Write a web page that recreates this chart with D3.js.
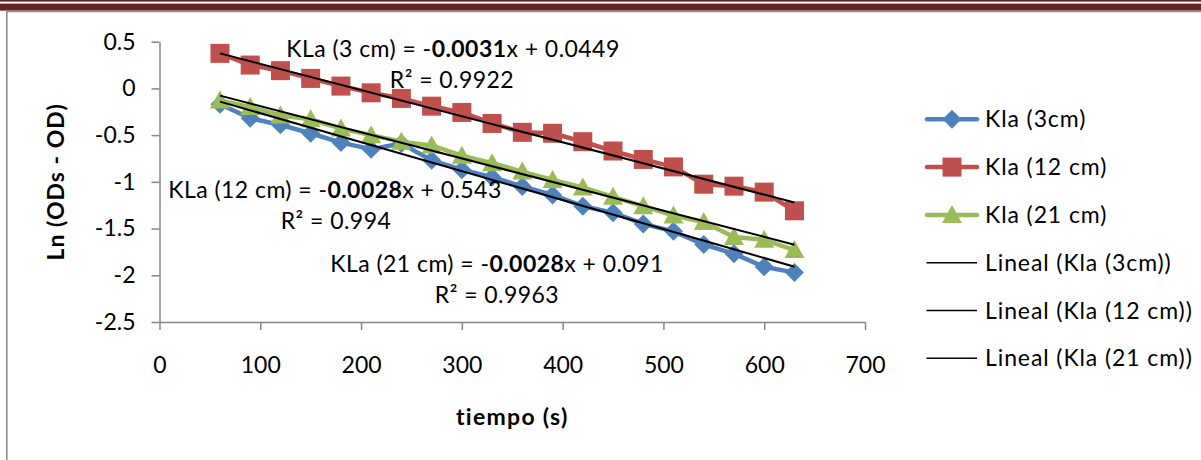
<!DOCTYPE html>
<html><head><meta charset="utf-8">
<script src="https://cdn.jsdelivr.net/npm/d3@7"></script>
<style>
body{margin:0;background:#fff}
svg{display:block}
text{font-family:Lato,'Liberation Sans',sans-serif;font-variant-ligatures:none;font-feature-settings:"liga" 0}
</style>
</head><body>
<svg id="c" width="1201" height="460"></svg>
<script>
// ---- data ----
const times = [60, 90, 120, 150, 180, 210, 240, 270, 300, 330, 360, 390, 420, 450, 480, 510, 540, 570, 600, 630];
const kla3  = [-0.17, -0.32, -0.39, -0.48, -0.58, -0.65, -0.59, -0.77, -0.87, -0.95, -1.05, -1.14, -1.26, -1.33, -1.45, -1.53, -1.67, -1.77, -1.91, -1.97];
const kla12 = [0.375, 0.25, 0.19, 0.107, 0.025, -0.047, -0.107, -0.19, -0.257, -0.375, -0.47, -0.48, -0.57, -0.67, -0.76, -0.84, -1.025, -1.046, -1.11, -1.31];
const kla21 = [-0.13, -0.20, -0.29, -0.33, -0.43, -0.50, -0.57, -0.61, -0.72, -0.80, -0.89, -0.98, -1.06, -1.16, -1.26, -1.36, -1.43, -1.59, -1.62, -1.73];
const seriesNames = ["Kla (3cm)", "Kla (12 cm)", "Kla (21 cm)"];
const trendNames = ["Lineal (Kla (3cm))", "Lineal (Kla (12 cm))", "Lineal (Kla (21 cm))"];
const trendSlopes = [-0.0031, -0.0028, -0.0028];
const trendIntercepts = [0.0449, 0.543, 0.091];
const eqPrefix = ["KLa (3 cm) = -", "KLa (12 cm) = -", "KLa (21 cm) = -"];
const eqSlopeText = ["0.0031", "0.0028", "0.0028"];
const eqSuffix = ["x + 0.0449", "x + 0.543", "x + 0.091"];
const eqR2 = ["R\u00B2 = 0.9922", "R\u00B2 = 0.994", "R\u00B2 = 0.9963"];
const xTickValues = [0, 100, 200, 300, 400, 500, 600, 700];
const xTickLabels = ["0", "100", "200", "300", "400", "500", "600", "700"];
const yTickValues = [0.5, 0, -0.5, -1, -1.5, -2, -2.5];
const yTickLabels = ["0.5", "0", "-0.5", "-1", "-1.5", "-2", "-2.5"];
const xTitle = "tiempo (s)";
const yTitle = "Ln (ODs - OD)";

// ---- drawing ----
const svg = d3.select("#c");
const W = 1201, H = 460;
const FS = 23;
const LS = 0.9;
const LS_EQ = 0.45;
const axisColor = "#868686";
const colors = ["#4F81BD", "#C0504D", "#9BBB59"];
const band = "#632423";

svg.append("rect").attr("width", W).attr("height", H).attr("fill", "#fff");
// page decoration
svg.append("rect").attr("x", 0).attr("y", 0).attr("width", W).attr("height", 1.6).attr("fill", band);
svg.append("rect").attr("x", 0).attr("y", 3.6).attr("width", W).attr("height", 7).attr("fill", band);
svg.append("line").attr("x1", 6).attr("x2", W).attr("y1", 11.6).attr("y2", 11.6).attr("stroke", "#8a8a8a").attr("stroke-width", 1.4);
svg.append("line").attr("x1", 6.8).attr("x2", 6.8).attr("y1", 11).attr("y2", H).attr("stroke", "#8a8a8a").attr("stroke-width", 1.6);

const x = d3.scaleLinear().domain([0, 700]).range([159.5, 865]);
const y = d3.scaleLinear().domain([-2.5, 0.5]).range([322, 41.7]);

// axes
const gy = svg.append("g").attr("transform", `translate(${x(0)},0)`)
  .call(d3.axisLeft(y).tickValues(yTickValues).tickFormat((d, i) => yTickLabels[i])
    .tickSize(8).tickSizeOuter(0).tickPadding(16));
const gx = svg.append("g").attr("transform", `translate(0,${y(-2.5)})`)
  .call(d3.axisBottom(x).tickValues(xTickValues).tickFormat((d, i) => xTickLabels[i])
    .tickSize(8).tickSizeOuter(0).tickPadding(27));
[gx, gy].forEach(g => {
  g.select(".domain").attr("stroke", axisColor).attr("stroke-width", 1.5);
  g.selectAll(".tick line").attr("stroke", axisColor).attr("stroke-width", 1.5);
  g.selectAll("text").attr("font-size", FS).attr("fill", "#000").attr("font-family", "Lato");
});

// series
const allSeries = [kla3, kla12, kla21];
const line = d3.line().x(d => x(d[0])).y(d => y(d[1]));
const markerPath = [
  "M0,-9.5L9.5,0L0,9.5L-9.5,0Z",
  "M-9.5,-9.5H9.5V9.5H-9.5Z",
  "M0,-10L10,8H-10Z"
];
allSeries.forEach((vals, s) => {
  const pts = times.map((t, i) => [t, vals[i]]);
  svg.append("path").attr("d", line(pts)).attr("fill", "none")
    .attr("stroke", colors[s]).attr("stroke-width", 4.5).attr("stroke-linejoin", "round");
  svg.append("g").selectAll("path").data(pts).join("path")
    .attr("transform", d => `translate(${x(d[0])},${y(d[1])})`)
    .attr("d", markerPath[s]).attr("fill", colors[s]);
});

// trendlines
trendSlopes.forEach((m, s) => {
  const t0 = times[0], t1 = times[times.length - 1];
  svg.append("line")
    .attr("x1", x(t0)).attr("y1", y(m * t0 + trendIntercepts[s]))
    .attr("x2", x(t1)).attr("y2", y(m * t1 + trendIntercepts[s]))
    .attr("stroke", "#000").attr("stroke-width", 2);
});

// equation labels
const eqPos = [[453, 57, 452], [335, 198, 336], [497, 272, 497]];
eqPrefix.forEach((p, i) => {
  const [cx, by, cx2] = eqPos[i];
  const t = svg.append("text").attr("x", cx).attr("y", by).attr("text-anchor", "middle")
    .attr("font-size", FS).attr("letter-spacing", LS_EQ).attr("fill", "#000");
  t.append("tspan").text(p);
  t.append("tspan").attr("font-weight", "bold").text(eqSlopeText[i]);
  t.append("tspan").text(eqSuffix[i]);
  svg.append("text").attr("x", cx2).attr("y", by + 31).attr("text-anchor", "middle")
    .attr("font-size", FS).attr("letter-spacing", LS_EQ).attr("fill", "#000").text(eqR2[i]);
});

// axis titles
svg.append("text").attr("x", (x(0) + x(700)) / 2).attr("y", 425).attr("text-anchor", "middle")
  .attr("font-size", FS).attr("letter-spacing", 1.3).attr("font-weight", "bold").attr("fill", "#000").text(xTitle);
svg.append("text").attr("transform", `translate(64,${(y(0.5) + y(-2.5)) / 2}) rotate(-90)`)
  .attr("text-anchor", "middle").attr("font-size", FS).attr("letter-spacing", 1).attr("font-weight", "bold").attr("fill", "#000").text(yTitle);

// legend
const legY0 = 119.3, legDy = 47.8;
const legend = svg.append("g");
seriesNames.forEach((n, i) => {
  const yy = legY0 + i * legDy;
  legend.append("line").attr("x1", 927).attr("x2", 977).attr("y1", yy).attr("y2", yy)
    .attr("stroke", colors[i]).attr("stroke-width", 4.5).attr("stroke-linecap", "round");
  legend.append("path").attr("transform", `translate(952,${yy})`).attr("d", markerPath[i]).attr("fill", colors[i]);
  legend.append("text").attr("x", 985).attr("y", yy).attr("dy", "0.35em")
    .attr("font-size", FS).attr("letter-spacing", LS).attr("fill", "#000").text(n);
});
trendNames.forEach((n, i) => {
  const yy = legY0 + (i + 3) * legDy;
  legend.append("line").attr("x1", 926.5).attr("x2", 977).attr("y1", yy).attr("y2", yy)
    .attr("stroke", "#000").attr("stroke-width", 1.6);
  legend.append("text").attr("x", 985).attr("y", yy).attr("dy", "0.35em")
    .attr("font-size", FS).attr("letter-spacing", LS).attr("fill", "#000").text(n);
});
</script>
</body></html>
